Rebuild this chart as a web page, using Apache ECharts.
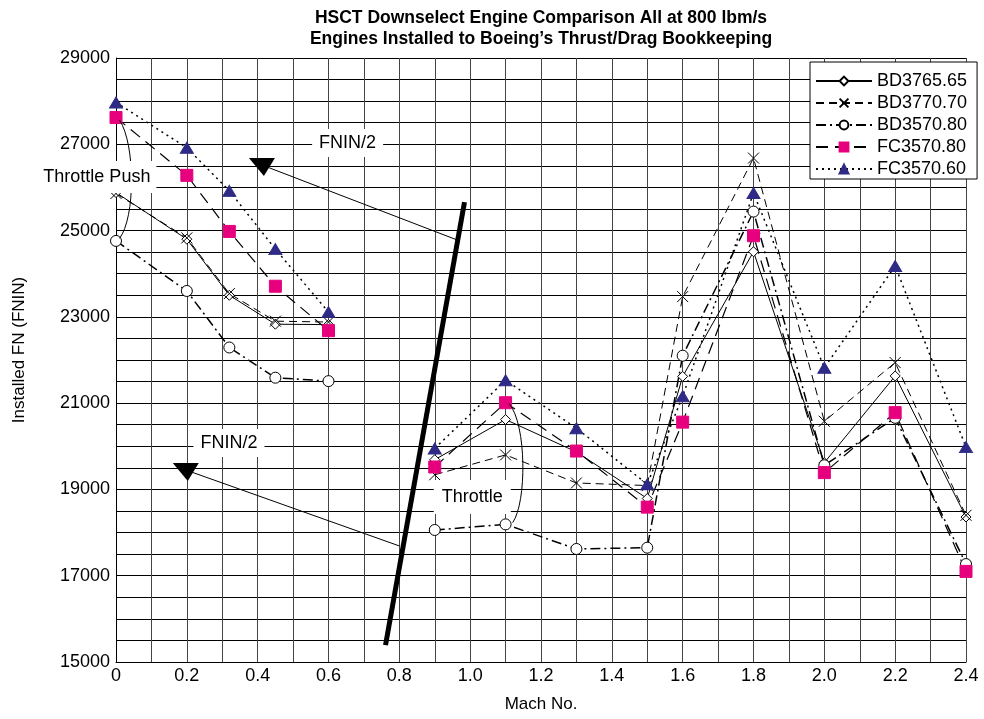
<!DOCTYPE html>
<html>
<head>
<meta charset="utf-8">
<script src="https://cdn.jsdelivr.net/npm/echarts@6/dist/echarts.min.js"></script>
<style>
  html, body { margin: 0; padding: 0; background: #fff; }
  #main { width: 984px; height: 719px; }
</style>
</head>
<body>
<div id="main"></div>
<script>
// 马赫数
const machSub = [0, 0.2, 0.32, 0.45, 0.6];
const machSup = [0.9, 1.1, 1.3, 1.5, 1.6, 1.8, 2.0, 2.2, 2.4];

// 安装推力 FNIN
const bd376565Sub = [25880, 24800, 23500, 22830, 22820];
const bd376565Sup = [19690, 20620, 19870, 18790, 21620, 24510, 19620, 21630, 18360];
const bd377070Sub = [25860, 24830, 23540, 22900, 22880];
const bd377070Sup = [19340, 19800, 19150, 19090, 23470, 26680, 20580, 21940, 18400];
const bd357080Sub = [24760, 23600, 22290, 21590, 21510];
const bd357080Sup = [18060, 18190, 17620, 17650, 22100, 25440, 19560, 20660, 17270];
const fc357080Sub = [27620, 26280, 24980, 23710, 22680];
const fc357080Sup = [19520, 21010, 19890, 18590, 20560, 24880, 19390, 20780, 17100];
const fc357060Sub = [27970, 26920, 25920, 24570, 23110];
const fc357060Sup = [19950, 21530, 20420, 19120, 21160, 25870, 21820, 24180, 19980];

const seriesNames = ['BD3765.65', 'BD3770.70', 'BD3570.80', 'FC3570.80', 'FC3570.60'];

// 注释（数据坐标）
const thickLine = [[0.761, 15390], [0.984, 25660]];
const arrowUpper = [[0.412, 26520], [0.964, 24780]];
const arrowLower = [[0.197, 19450], [0.80, 17690]];
const labelUpper = [0.654, 27030];
const labelLower = [0.319, 20076];
const labelPush = [-0.054, 26240];
const labelThrottle = [1.006, 18824];
const bracketPush = [[0.01, 27560], [0.055, 27000], [0.055, 25300], [0.01, 24820]];
const bracketThrottle = [[1.11, 20990], [1.16, 20500], [1.16, 18700], [1.12, 18230]];

const FONT = '"Liberation Sans", Arial, sans-serif';

function seg(sub, sup) {
  return machSub.map((m, i) => [m, sub[i]])
    .concat([[0.75, '-']])
    .concat(machSup.map((m, i) => [m, sup[i]]));
}

function lineSeries(name, sub, sup, symbol, size, fill, lineStyle) {
  return {
    name: name,
    type: 'line',
    data: seg(sub, sup),
    connectNulls: false,
    symbol: symbol,
    symbolSize: size,
    showSymbol: true,
    itemStyle: { color: fill, borderColor: fill === '#fff' || fill === 'none' ? '#000' : fill, borderWidth: 1 },
    lineStyle: Object.assign({ color: '#000', width: 1 }, lineStyle),
    emphasis: { disabled: true },
    z: 3
  };
}

var myChart = echarts.init(document.getElementById('main'));

let option = {
  animation: false,
  backgroundColor: '#fff',
  grid: { left: 116, right: 18, top: 58, bottom: 57 },
  xAxis: {
    type: 'value',
    min: 0,
    max: 2.4,
    interval: 0.1,
    name: 'Mach No.',
    nameLocation: 'middle',
    nameGap: 34,
    nameTextStyle: { fontFamily: FONT, fontSize: 17, color: '#000' },
    axisLine: { show: true, lineStyle: { color: '#000', width: 1 } },
    axisTick: { show: false },
    axisLabel: {
      fontFamily: FONT, fontSize: 18, color: '#000', margin: 5,
      formatter: function (v) {
        const k = Math.round(v * 10);
        if (k % 2) return '';
        return k === 0 ? '0' : (k / 10).toFixed(1);
      }
    },
    splitLine: { show: true, lineStyle: { color: '#444', width: 1 } }
  },
  yAxis: {
    type: 'value',
    min: 15000,
    max: 29000,
    interval: 500,
    axisLine: { show: true, lineStyle: { color: '#000', width: 1 } },
    axisTick: { show: false },
    axisLabel: {
      fontFamily: FONT, fontSize: 18, color: '#000', margin: 6,
      formatter: function (v) {
        return (v - 15000) % 2000 === 0 ? String(v) : '';
      }
    },
    splitLine: { show: true, lineStyle: { color: '#000', width: 1 } }
  },
  legend: {
    data: seriesNames,
    orient: 'vertical',
    left: 810,
    top: 62,
    itemWidth: 56,
    itemHeight: 11,
    itemGap: 2,
    padding: [9, 10, 0, 5],
    backgroundColor: '#fff',
    borderColor: '#000',
    borderWidth: 1,
    borderRadius: 0,
    textStyle: { fontFamily: FONT, fontSize: 18, color: '#000', lineHeight: 20 }
  },
  series: [
    lineSeries('BD3765.65', bd376565Sub, bd376565Sup, 'diamond', [10, 10], '#fff', { type: 'solid', width: 1 }),
    lineSeries('BD3770.70', bd377070Sub, bd377070Sup, 'path://M0,0L10,10M10,0L0,10', [11, 11], 'none', { type: [8, 5], width: 1 }),
    lineSeries('BD3570.80', bd357080Sub, bd357080Sup, 'circle', 11, '#fff', { type: [10, 4, 2, 4], width: 1.5 }),
    lineSeries('FC3570.80', fc357080Sub, fc357080Sup, 'rect', 12, '#e6007e', { type: [12, 7], width: 1.2 }),
    lineSeries('FC3570.60', fc357060Sub, fc357060Sup, 'triangle', [13, 11], '#2e2a85', { type: [2, 4], width: 1.5 })
  ]
};

myChart.setOption(option);

// 注释图形
function px(p) { return myChart.convertToPixel({ gridIndex: 0 }, p); }

function textBox(p, text, pad) {
  const q = px(p);
  return {
    type: 'text', z: 20,
    style: {
      x: q[0], y: q[1], text: text, align: 'center', verticalAlign: 'middle',
      font: '18px ' + FONT, fill: '#000', backgroundColor: '#fff', padding: pad
    }
  };
}

function arrow(seg) {
  const a = px(seg[0]), b = px(seg[1]);
  return [
    { type: 'line', z: 15, shape: { x1: a[0], y1: a[1], x2: b[0], y2: b[1] }, style: { stroke: '#000', lineWidth: 1 } },
    { type: 'polygon', z: 16, shape: { points: [[a[0] - 13, a[1] - 7], [a[0] + 13, a[1] - 7], [a[0] + 2, a[1] + 11]] }, style: { fill: '#000' } }
  ];
}

function bracket(pts) {
  const p = pts.map(px);
  return {
    type: 'bezierCurve', z: 15,
    shape: { x1: p[0][0], y1: p[0][1], cpx1: p[1][0], cpy1: p[1][1], cpx2: p[2][0], cpy2: p[2][1], x2: p[3][0], y2: p[3][1] },
    style: { stroke: '#000', lineWidth: 1, fill: null }
  };
}

const t0 = px(thickLine[0]), t1 = px(thickLine[1]);

let graphics = [
  { type: 'text', z: 20, style: { x: 541, y: 18, text: 'HSCT Downselect Engine Comparison All at 800 lbm/s', align: 'center', verticalAlign: 'middle', font: 'bold 17.5px ' + FONT, fill: '#000' } },
  { type: 'text', z: 20, style: { x: 541, y: 39, text: 'Engines Installed to Boeing\u2019s Thrust/Drag Bookkeeping', align: 'center', verticalAlign: 'middle', font: 'bold 17.5px ' + FONT, fill: '#000' } },
  { type: 'text', z: 20, rotation: Math.PI / 2, x: 19, y: 350, style: { x: 0, y: 0, text: 'Installed FN (FNIN)', align: 'center', verticalAlign: 'middle', font: '17px ' + FONT, fill: '#000' } },
  { type: 'line', z: 15, shape: { x1: t0[0], y1: t0[1], x2: t1[0], y2: t1[1] }, style: { stroke: '#000', lineWidth: 5 } },
  bracket(bracketPush),
  bracket(bracketThrottle)
].concat(arrow(arrowUpper), arrow(arrowLower), [
  textBox(labelUpper, 'FNIN/2', [5, 7]),
  textBox(labelLower, 'FNIN/2', [5, 7]),
  textBox(labelPush, 'Throttle Push', [7, 6]),
  textBox(labelThrottle, 'Throttle', [8, 8])
]);

myChart.setOption({ graphic: graphics });
</script>
</body>
</html>
